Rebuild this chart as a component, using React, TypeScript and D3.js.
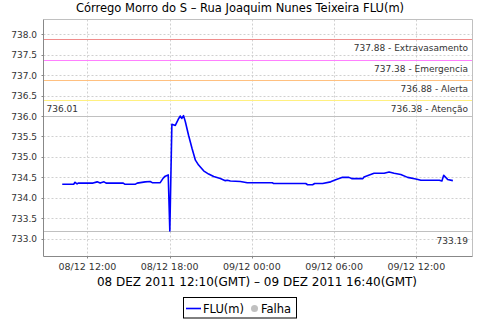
import React from "react";
import * as d3 from "d3";

const title = "Córrego Morro do S – Rua Joaquim Nunes Teixeira FLU(m)";
const axisLabel = "08 DEZ 2011 12:10(GMT) – 09 DEZ 2011 16:40(GMT)";

const times = [
  "2011-12-08 10:10", "2011-12-08 11:00", "2011-12-08 11:06", "2011-12-08 11:15", "2011-12-08 11:20",
  "2011-12-08 12:25", "2011-12-08 12:43", "2011-12-08 12:56", "2011-12-08 13:13", "2011-12-08 13:22",
  "2011-12-08 14:37", "2011-12-08 14:45", "2011-12-08 15:29", "2011-12-08 15:38", "2011-12-08 16:13",
  "2011-12-08 16:35", "2011-12-08 16:44", "2011-12-08 17:19", "2011-12-08 17:32", "2011-12-08 17:41",
  "2011-12-08 17:54", "2011-12-08 18:01", "2011-12-08 18:10", "2011-12-08 18:25", "2011-12-08 18:40",
  "2011-12-08 18:47", "2011-12-08 18:53", "2011-12-08 19:01", "2011-12-08 19:09", "2011-12-08 19:23",
  "2011-12-08 19:38", "2011-12-08 19:53", "2011-12-08 20:07", "2011-12-08 20:29", "2011-12-08 20:51",
  "2011-12-08 21:13", "2011-12-08 21:42", "2011-12-08 22:04", "2011-12-08 22:13", "2011-12-08 22:26",
  "2011-12-08 23:10", "2011-12-08 23:40", "2011-12-09 01:29", "2011-12-09 01:35", "2011-12-09 03:56",
  "2011-12-09 04:04", "2011-12-09 04:26", "2011-12-09 04:35", "2011-12-09 05:10", "2011-12-09 05:45",
  "2011-12-09 06:07", "2011-12-09 06:37", "2011-12-09 07:05", "2011-12-09 07:17", "2011-12-09 08:06",
  "2011-12-09 08:11", "2011-12-09 08:55", "2011-12-09 09:39", "2011-12-09 10:01", "2011-12-09 10:23",
  "2011-12-09 10:52", "2011-12-09 11:22", "2011-12-09 11:58", "2011-12-09 12:20", "2011-12-09 13:41",
  "2011-12-09 13:52", "2011-12-09 14:00", "2011-12-09 14:17", "2011-12-09 14:40",
];
const levels = [
  734.33, 734.33, 734.38, 734.34, 734.36,
  734.36, 734.39, 734.36, 734.39, 734.36,
  734.36, 734.33, 734.33, 734.36, 734.39,
  734.40, 734.37, 734.37, 734.48, 734.53,
  734.56, 733.19, 735.80, 735.77, 735.94,
  736.00, 735.94, 736.01, 735.86, 735.53,
  735.21, 734.92, 734.80, 734.66, 734.58,
  734.52, 734.47, 734.42, 734.43, 734.41,
  734.40, 734.37, 734.37, 734.35, 734.35,
  734.32, 734.32, 734.35, 734.35, 734.39,
  734.44, 734.50, 734.50, 734.47, 734.47,
  734.51, 734.60, 734.60, 734.63, 734.60,
  734.57, 734.50, 734.46, 734.43, 734.43,
  734.41, 734.55, 734.45, 734.42,
];

const thresholdValues = [737.88, 737.38, 736.88, 736.38];
const thresholdNames = ["Extravasamento", "Emergencia", "Alerta", "Atenção"];
const thresholdColors = ["#f08c8c", "#ff80ff", "#ffc080", "#fff080"];
const maxValue = 736.01;
const minValue = 733.19;

const yTicks = [733.0, 733.5, 734.0, 734.5, 735.0, 735.5, 736.0, 736.5, 737.0, 737.5, 738.0];
const xDomain = ["2011-12-08 08:48", "2011-12-09 16:06"];
const yDomain = [732.565, 738.36];

const parse = d3.timeParse("%Y-%m-%d %H:%M");
const fmt = d3.timeFormat("%d/%m %H:%M");

export default function App() {
  const W = 480, H = 320;
  const L = 43.5, R = 472.5, T = 19.5, B = 256.5;
  const x = d3.scaleTime().domain(xDomain.map((s) => parse(s) as Date)).range([L, R]);
  const y = d3.scaleLinear().domain(yDomain).range([B, T]);
  const data = times.map((t, i) => ({ t: parse(t) as Date, v: levels[i] }));
  const line = d3.line<{ t: Date; v: number }>().x((d) => x(d.t)).y((d) => y(d.v));
  const xTicks = x.ticks(d3.timeHour.every(6) as any);
  const font = "DejaVu Sans, sans-serif";
  const ry = (v: number) => Math.round(y(v)) + 0.5;
  return (
    <svg width={W} height={H} style={{ position: "absolute", left: 0, top: 0, background: "#fff" }} fontFamily={font}>
      <rect x={0} y={0} width={W} height={H} fill="#fff" />
      <text x={240} y={12} textAnchor="middle" fontSize={11.5} fill="#000">{title}</text>
      {/* grid */}
      {xTicks.map((t, i) => (
        <line key={"gx" + i} x1={Math.round(x(t)) + 0.5} x2={Math.round(x(t)) + 0.5} y1={T} y2={B} stroke="#d0d0d0" strokeDasharray="2,2" />
      ))}
      {yTicks.map((v, i) => (
        <line key={"gy" + i} x1={L} x2={R} y1={ry(v)} y2={ry(v)} stroke="#d0d0d0" strokeDasharray="2,2" />
      ))}
      {/* thresholds */}
      {thresholdValues.map((v, i) => (
        <g key={"th" + i}>
          <line x1={L} x2={R} y1={ry(v)} y2={ry(v)} stroke={thresholdColors[i]} strokeWidth={1} />
          <text x={468} y={ry(v) + 11.5} textAnchor="end" fontSize={9} fill="#333">{`${v.toFixed(2)} - ${thresholdNames[i]}`}</text>
        </g>
      ))}
      <line x1={L} x2={R} y1={ry(maxValue)} y2={ry(maxValue)} stroke="#c0c0c0" />
      <text x={46.5} y={ry(maxValue) - 5} fontSize={9} fill="#333">{maxValue.toFixed(2)}</text>
      <line x1={L} x2={R} y1={ry(minValue)} y2={ry(minValue)} stroke="#c0c0c0" />
      <text x={468} y={ry(minValue) + 12} textAnchor="end" fontSize={9} fill="#333">{minValue.toFixed(2)}</text>
      {/* border */}
      <line x1={L} x2={R} y1={T} y2={T} stroke="#c0c0c0" />
      <line x1={R} x2={R} y1={T} y2={B} stroke="#c0c0c0" />
      <line x1={L} x2={L} y1={T} y2={B} stroke="#888" />
      <line x1={L} x2={R} y1={B} y2={B} stroke="#888" />
      {/* data */}
      <path d={line(data) || ""} fill="none" stroke="#0000ff" strokeWidth={1.6} strokeLinejoin="round" />
      {/* axes */}
      {xTicks.map((t, i) => (
        <g key={"xt" + i}>
          <line x1={Math.round(x(t)) + 0.5} x2={Math.round(x(t)) + 0.5} y1={B} y2={B + 2} stroke="#888" />
          <text x={x(t)} y={269.5} textAnchor="middle" fontSize={9.5} fill="#333">{fmt(t)}</text>
        </g>
      ))}
      {yTicks.map((v, i) => (
        <g key={"yt" + i}>
          <line x1={L - 2} x2={L} y1={ry(v)} y2={ry(v)} stroke="#888" />
          <text x={37} y={y(v) + 3.5} textAnchor="end" fontSize={9} fill="#333">{v.toFixed(1)}</text>
        </g>
      ))}
      <text x={257} y={285.5} textAnchor="middle" fontSize={12} fill="#000">{axisLabel}</text>
      {/* legend */}
      <rect x={183.5} y={297.5} width={113} height={20.5} fill="#fff" stroke="#000" />
      <line x1={186} x2={201} y1={308.5} y2={308.5} stroke="#0000ff" strokeWidth={1.6} />
      <text x={203} y={313} fontSize={11.5} fill="#000">FLU(m)</text>
      <circle cx={254.5} cy={308.5} r={3.5} fill="#c0c0c0" />
      <text x={261} y={313} fontSize={11.5} fill="#000">Falha</text>
    </svg>
  );
}
